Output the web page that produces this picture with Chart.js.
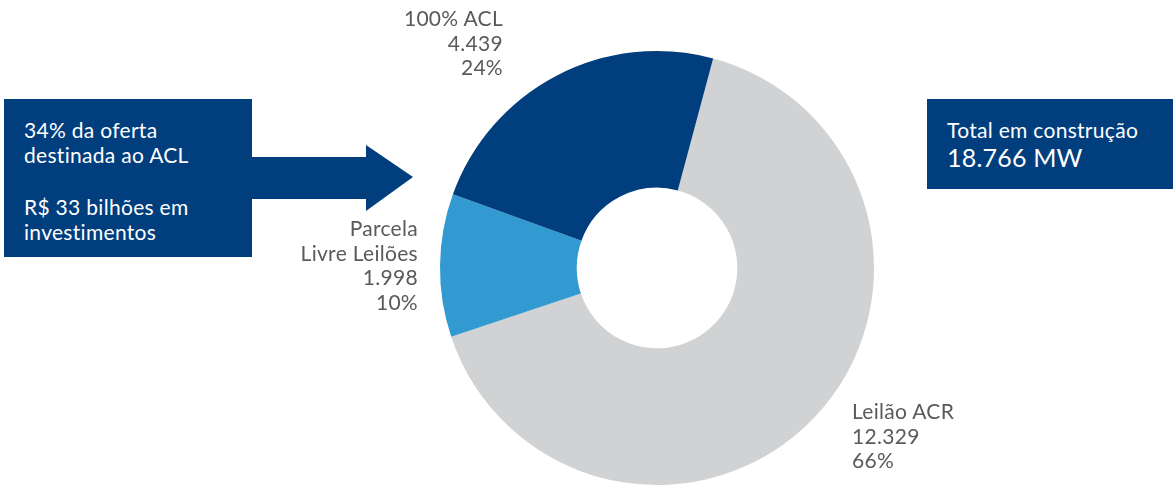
<!DOCTYPE html>
<html>
<head>
<meta charset="utf-8">
<script src="https://cdn.jsdelivr.net/npm/chart.js@4"></script>
<style>
    html, body { margin: 0; padding: 0; background: #fff; }
    body { width: 1173px; height: 490px; position: relative; overflow: hidden; font-family: 'Lato', sans-serif; }
    #chartWrap { position: absolute; left: 0; top: 0; width: 1173px; height: 490px; }
    .box { position: absolute; background: #003e7e; color: #fff; font-size: 21px; line-height: 25px; letter-spacing: 0.3px; box-sizing: border-box; }
    .lbl { position: absolute; color: #5a5a5c; font-size: 21px; line-height: 24.5px; letter-spacing: 0.3px; white-space: nowrap; }
    svg { position: absolute; left: 0; top: 0; }
</style>
</head>
<body>
<div id="chartWrap"><canvas id="donutChart" width="1173" height="490"></canvas></div>

<svg width="1173" height="490">
    <polygon points="250,157 366,157 366,145 413,177 366,211 366,199 250,199" fill="#003e7e"/>
</svg>

<div class="box" style="left:4px; top:99px; width:248px; height:158px; padding:18px 0 0 20px;">
    <div id="leftLine1"></div>
    <div id="leftLine2"></div>
    <div style="height:27px"></div>
    <div id="leftLine3"></div>
    <div id="leftLine4"></div>
</div>

<div class="box" style="left:927px; top:99px; width:246px; height:90px; padding:18px 0 0 20px;">
    <div id="totalTitle"></div>
    <div id="totalValue" style="font-size:25px; line-height:30px; letter-spacing:0.2px;"></div>
</div>

<div class="lbl" id="lblACL" style="right:670px; top:6px; text-align:right;"></div>
<div class="lbl" id="lblLivre" style="right:755px; top:216px; text-align:right;"></div>
<div class="lbl" id="lblACR" style="left:852px; top:399px; text-align:left;"></div>

<script>
// Segment data (MW), in drawing order clockwise from ~15 degrees
const categories = ['Leilão ACR', 'Parcela Livre Leilões', '100% ACL'];
const capacity = [12329, 1998, 4439];
const shareLabels = ['12.329', '1.998', '4.439'];
const percentLabels = ['66%', '10%', '24%'];
const sliceColors = ['#d1d2d4', '#3399d1', '#003e7e'];

const leftNote = ['34% da oferta', 'destinada ao ACL', 'R$ 33 bilhões em', 'investimentos'];
const totalNote = ['Total em construção', '18.766 MW'];

function setLines(id, lines) {
    document.getElementById(id).innerHTML = lines.join('<br>');
}

setLines('leftLine1', [leftNote[0]]);
setLines('leftLine2', [leftNote[1]]);
setLines('leftLine3', [leftNote[2]]);
setLines('leftLine4', [leftNote[3]]);
setLines('totalTitle', [totalNote[0]]);
setLines('totalValue', [totalNote[1]]);

setLines('lblACR', [categories[0], shareLabels[0], percentLabels[0]]);
setLines('lblLivre', ['Parcela', 'Livre Leilões', shareLabels[1], percentLabels[1]]);
setLines('lblACL', [categories[2], shareLabels[2], percentLabels[2]]);

const ctx = document.getElementById('donutChart');

new Chart(ctx, {
    type: 'doughnut',
    data: {
        labels: categories,
        datasets: [{
            data: capacity,
            backgroundColor: sliceColors,
            borderWidth: 0,
            hoverOffset: 0
        }]
    },
    options: {
        responsive: false,
        animation: false,
        rotation: 15,
        cutout: '37%',
        layout: {
            padding: { left: 440, right: 299, top: 51, bottom: 5 }
        },
        plugins: {
            legend: { display: false },
            tooltip: { enabled: false }
        }
    }
});
</script>
</body>
</html>
